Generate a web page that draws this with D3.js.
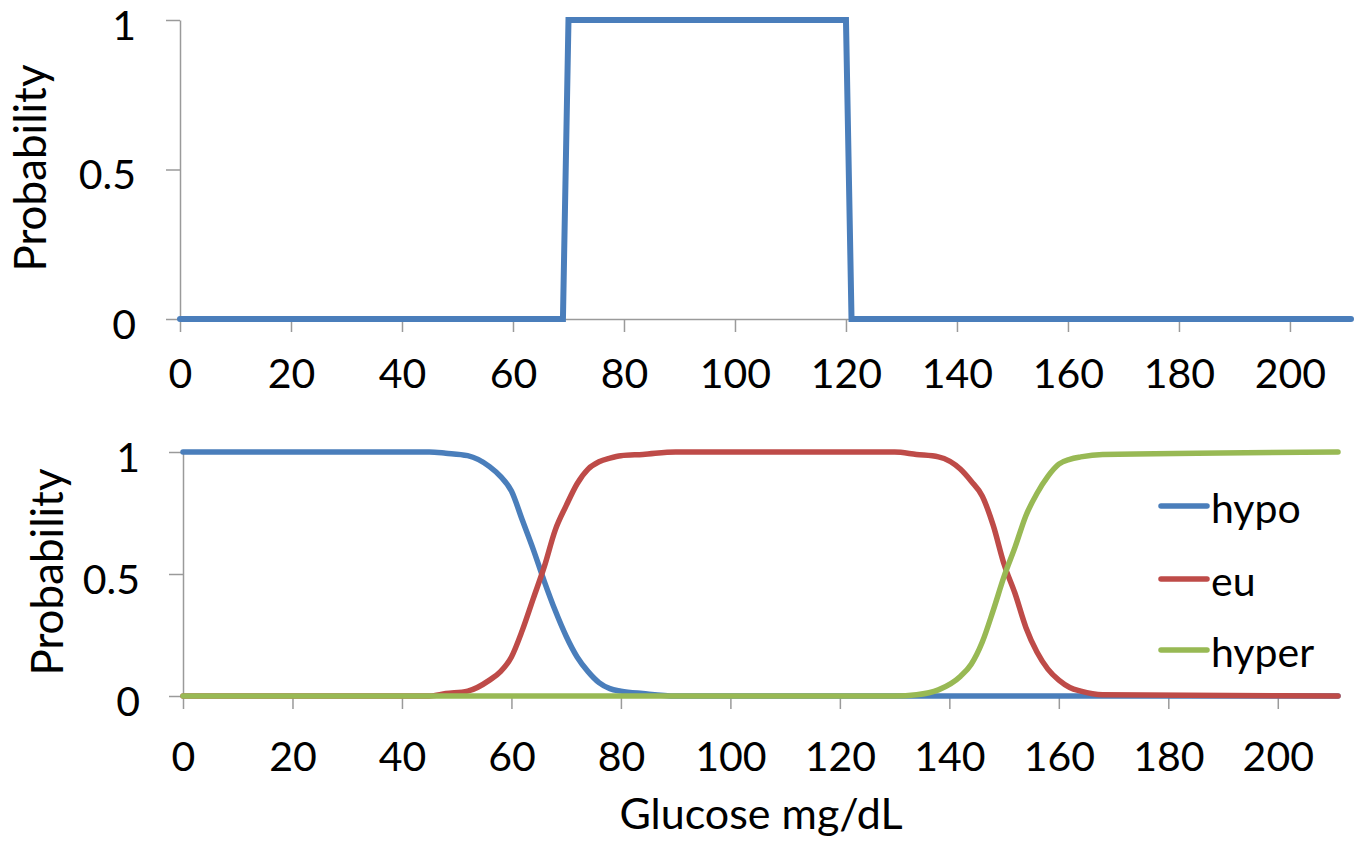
<!DOCTYPE html>
<html>
<head>
<meta charset="utf-8">
<script src="https://cdn.jsdelivr.net/npm/d3@7"></script>
<style>
  body { margin: 0; background: #fff; }
  text { font-family: Lato, "Open Sans", sans-serif; fill: #000; }
  .axis path, .axis line { stroke: #9a9a9a; stroke-width: 1.5; }
  .axis text { font-size: 41px; font-family: Lato, sans-serif; fill: #000; }
</style>
</head>
<body>
<div id="chart"></div>
<script>
/// Data ///
var stepGlucose = [0, 69, 70, 120, 121, 211];
var stepProb = [0, 0, 1, 1, 0, 0];

var glucose = [0, 45, 48, 52, 56, 58, 60, 62, 64, 66, 68, 70, 72, 74, 76, 78, 80, 84, 90,
    130, 134, 138, 142, 144, 146, 148, 150, 152, 154, 156, 158, 160, 162, 164, 168, 211];
var hypo = [1, 1, 0.995, 0.985, 0.94, 0.9, 0.84, 0.72, 0.6, 0.47, 0.35, 0.245, 0.16, 0.1, 0.055, 0.03, 0.02, 0.01, 0,
    0, 0, 0, 0, 0, 0, 0, 0, 0, 0, 0, 0, 0, 0, 0, 0, 0];
var eu = [0, 0, 0.01, 0.02, 0.065, 0.1, 0.16, 0.27, 0.4, 0.53, 0.68, 0.78, 0.87, 0.93, 0.96, 0.975, 0.985, 0.99, 1,
    1, 0.99, 0.98, 0.93, 0.88, 0.82, 0.7, 0.54, 0.42, 0.28, 0.18, 0.11, 0.065, 0.035, 0.02, 0.005, 0];
var hyper = [0, 0, 0, 0, 0, 0, 0, 0, 0, 0, 0, 0, 0, 0, 0, 0, 0, 0, 0,
    0, 0.005, 0.025, 0.08, 0.13, 0.22, 0.35, 0.49, 0.61, 0.74, 0.83, 0.9, 0.95, 0.97, 0.98, 0.99, 1];

var seriesNames = ["hypo", "eu", "hyper"];
var seriesColors = ["#4a7ebb", "#be4b48", "#98b954"];
var xTicks = [0, 20, 40, 60, 80, 100, 120, 140, 160, 180, 200];
var yTicks = [0, 0.5, 1];

/// SVG area ///
var svgWidth = 1360;
var svgHeight = 842;

var svg = d3.select("#chart")
    .append("svg")
    .attr("width", svgWidth)
    .attr("height", svgHeight);

/// Scales for both panels ///
var xTop = d3.scaleLinear().domain([0, 211]).range([180, 1351]);
var yTop = d3.scaleLinear().domain([0, 1]).range([319, 20]);
var xBot = d3.scaleLinear().domain([0, 211]).range([183, 1338]);
var yBot = d3.scaleLinear().domain([0, 1]).range([696, 452]);

function drawAxes(x, y, xPad, yPad) {
    var xAxis = d3.axisBottom(x).tickValues(xTicks).tickSize(13).tickSizeOuter(0).tickPadding(xPad);
    var yAxis = d3.axisLeft(y).tickValues(yTicks).tickSize(14).tickSizeOuter(0).tickPadding(yPad)
        .tickFormat(d => d === 0.5 ? "0.5" : d3.format("d")(d));

    svg.append("g").attr("class", "axis")
        .attr("transform", `translate(0, ${y(0)})`)
        .call(xAxis);
    svg.append("g").attr("class", "axis")
        .attr("transform", `translate(${x(0)}, 0)`)
        .call(yAxis)
        .selectAll("text").attr("dy", "0.47em");
}

drawAxes(xTop, yTop, 27, 30);
drawAxes(xBot, yBot, 33, 29);

/// Axis titles ///
svg.append("text")
    .attr("transform", `translate(46, 168) rotate(-90)`)
    .attr("text-anchor", "middle")
    .attr("font-size", 44)
    .text("Probability");

svg.append("text")
    .attr("transform", `translate(63, 572) rotate(-90)`)
    .attr("text-anchor", "middle")
    .attr("font-size", 44)
    .text("Probability");

svg.append("text")
    .attr("x", 761)
    .attr("y", 829)
    .attr("text-anchor", "middle")
    .attr("font-size", 43)
    .text("Glucose mg/dL");

/// Top panel: step line ///
var topLine = d3.line()
    .x((d, i) => xTop(stepGlucose[i]))
    .y(d => yTop(d));

svg.append("path")
    .datum(stepProb)
    .attr("d", topLine)
    .attr("fill", "none")
    .attr("stroke", seriesColors[0])
    .attr("stroke-width", 6)
    .attr("stroke-linejoin", "miter")
    .attr("stroke-linecap", "round");

/// Bottom panel: three curves ///
var botLine = d3.line()
    .x((d, i) => xBot(glucose[i]))
    .y(d => yBot(d))
    .curve(d3.curveMonotoneX);

[hypo, eu, hyper].forEach(function (vals, k) {
    svg.append("path")
        .datum(vals)
        .attr("d", botLine)
        .attr("fill", "none")
        .attr("stroke", seriesColors[k])
        .attr("stroke-width", 5.5)
        .attr("stroke-linecap", "round");
});

/// Legend ///
var legendY = [506, 579, 650];
seriesNames.forEach(function (name, k) {
    svg.append("line")
        .attr("x1", 1161).attr("x2", 1207)
        .attr("y1", legendY[k]).attr("y2", legendY[k])
        .attr("stroke", seriesColors[k])
        .attr("stroke-width", 5.5)
        .attr("stroke-linecap", "round");
    svg.append("text")
        .attr("x", 1211)
        .attr("y", legendY[k] + 17)
        .attr("font-size", 41)
        .text(name);
});
</script>
</body>
</html>
